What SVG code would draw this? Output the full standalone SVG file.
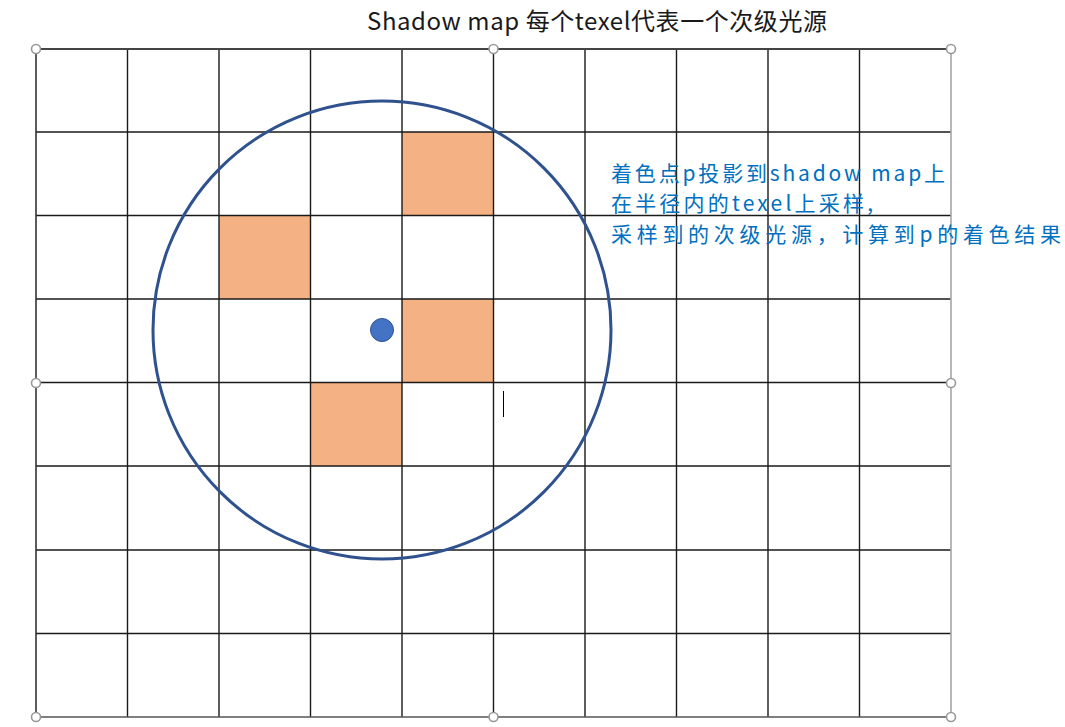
<svg xmlns="http://www.w3.org/2000/svg" width="1065" height="727" viewBox="0 0 1065 727">
<style>
.g{stroke:#1a1a1a;stroke-width:1.4;fill:none}
.cell{fill:#f4b183;stroke:none}
.h{fill:#fff;stroke:#999;stroke-width:1.6}
.t{font-family:"Noto Sans CJK SC","Noto Sans",sans-serif;font-size:24px}
.b{fill:#0070c0;font-size:21px}
</style>
<rect width="1065" height="727" fill="#fff"/>
<g id="cells">
<rect class="cell" x="402" y="132" width="92" height="83.5"/>
<rect class="cell" x="219" y="215.5" width="91.5" height="83.5"/>
<rect class="cell" x="402" y="299" width="92" height="83.5"/>
<rect class="cell" x="310.5" y="382.5" width="91.5" height="83.5"/>
</g>
<g id="grid">
<path class="g" d="M127.5 49V717M219 49V717M310.5 49V717M402 49V717M493.5 49V717M585 49V717M676.5 49V717M768 49V717M859.5 49V717"/>
<path class="g" d="M36 132H951M36 215.5H951M36 299H951M36 382.5H951M36 466H951M36 550H951M36 633.5H951"/>
<path d="M36 49V717" stroke="#333" stroke-width="1.6" fill="none"/>
<path d="M36 49H951" stroke="#444" stroke-width="2" fill="none"/>
<path d="M36 717H951" stroke="#555" stroke-width="1.6" fill="none"/>
<path d="M951 49V717" stroke="#a6a6a6" stroke-width="1.6" fill="none"/>
</g>
<g id="radius">
<circle cx="382" cy="330" r="229" fill="none" stroke="#2f528f" stroke-width="3"/>
</g>
<g id="point-p">
<circle cx="382" cy="330" r="11.5" fill="#4472c4" stroke="#2f528f" stroke-width="1"/>
</g>
<g id="handles">
<circle class="h" cx="36" cy="49" r="4.5"/>
<circle class="h" cx="493.5" cy="49" r="4.5"/>
<circle class="h" cx="951" cy="49" r="4.5"/>
<circle class="h" cx="36" cy="383" r="4.5"/>
<circle class="h" cx="951" cy="383" r="4.5"/>
<circle class="h" cx="36" cy="717" r="4.5"/>
<circle class="h" cx="493.5" cy="717" r="4.5"/>
<circle class="h" cx="951" cy="717" r="4.5"/>
</g>
<path d="M503.5 391V417" stroke="#000" stroke-width="1"/>
<g id="labels">
<text class="t" x="367" y="30" fill="#1a1a1a" textLength="460" lengthAdjust="spacing">Shadow map 每个texel代表一个次级光源</text>
<text class="t b" x="611" y="181" textLength="334" lengthAdjust="spacing">着色点p投影到shadow map上</text>
<text class="t b" x="611" y="211" textLength="262" lengthAdjust="spacing">在半径内的texel上采样,</text>
<text class="t b" x="611" y="242" textLength="450" lengthAdjust="spacing">采样到的次级光源，计算到p的着色结果</text>
</g>
</svg>
